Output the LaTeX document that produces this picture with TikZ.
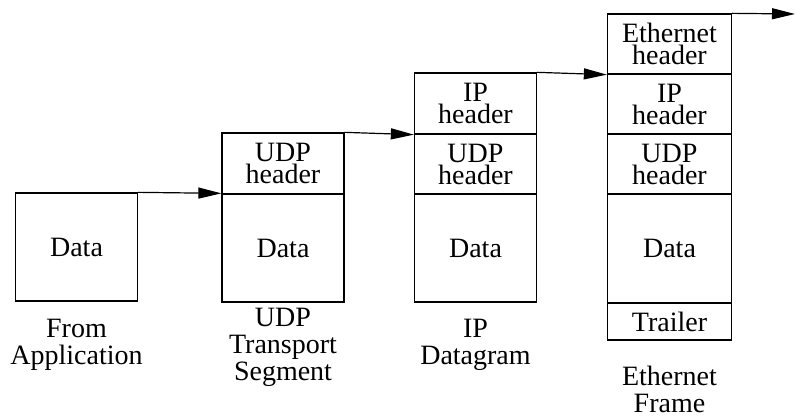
\documentclass[tikz,border=0pt]{standalone}
\usepackage{fontspec}
\setmainfont{Liberation Serif}
\usetikzlibrary{arrows.meta}
\begin{document}
\begin{tikzpicture}[x=1pt,y=-1pt,
  cell/.style={draw, line width=1.3pt, minimum width=122pt, inner sep=0pt,
    align=center, font=\fontsize{28}{22}\selectfont},
  caption/.style={anchor=north, inner sep=0pt, align=center,
    font=\fontsize{28}{27}\selectfont},
  flow/.style={line width=1.2pt, -{Triangle[length=23pt,width=11pt]}}]
\useasboundingbox (0,0) rectangle (796,419);

% application data
\node[cell, minimum height=108pt] (a) at (76.5,247) {Data};

% UDP segment
\node[cell, minimum height=61pt]  (bh) at (283,163.5) {UDP\\header};
\node[cell, minimum height=108pt] (bd) at (283,248) {Data};

% IP datagram
\node[cell, minimum height=61pt]  (ci) at (475.5,103.5) {IP\\header};
\node[cell, minimum height=60pt]  (cu) at (475.5,164) {UDP\\header};
\node[cell, minimum height=108pt] (cd) at (475.5,248) {Data};

% Ethernet frame
\node[cell, minimum width=124pt, minimum height=60pt]  (de) at (669.5,44) {Ethernet\\header};
\node[cell, minimum width=124pt, minimum height=60pt]  (di) at (669.5,104) {IP\\header};
\node[cell, minimum width=124pt, minimum height=60pt]  (du) at (669.5,164) {UDP\\header};
\node[cell, minimum width=124pt, minimum height=109pt] (dd) at (669.5,248.5) {Data};
\node[cell, minimum width=124pt, minimum height=37pt]  (dt) at (669.5,321.5) {Trailer};

% captions
\node[caption] (la) at (76.5,318.5) {From\\Application};
\node[caption] (lb) at (283,307.5) {UDP\\Transport\\Segment};
\node[caption] (lc) at (475.5,318.5) {IP\\Datagram};
\node[caption] (ld) at (669.5,366) {Ethernet\\Frame};

% encapsulation flow
\coordinate (out) at (795,14);
\draw[flow] (a.north east) -- (bd.north west);
\draw[flow] (bh.north east) -- (ci.south west);
\draw[flow] (ci.north east) -- (de.south west);
\draw[flow] (de.north east) -- (out);
\end{tikzpicture}
\end{document}
